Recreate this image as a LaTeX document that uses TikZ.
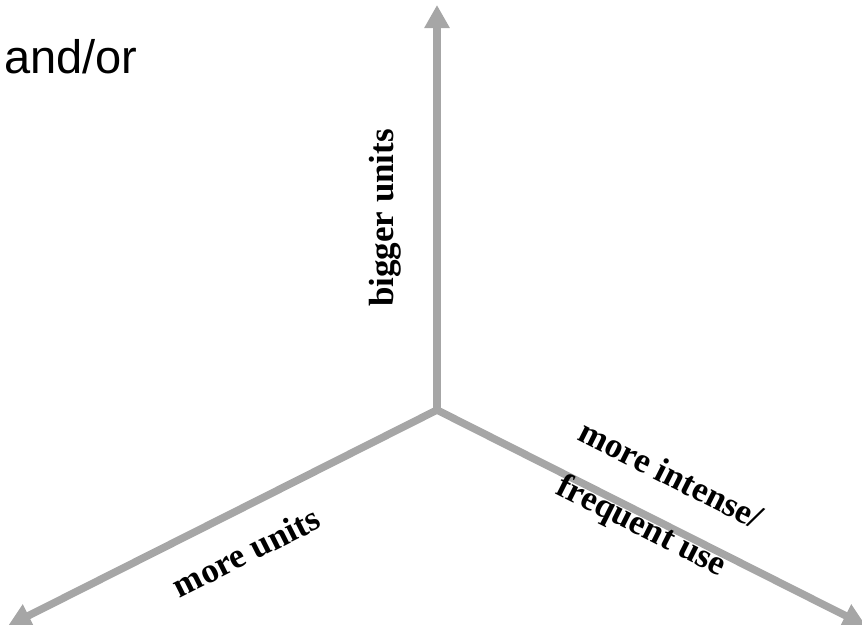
\documentclass[tikz,border=0pt]{standalone}
\usepackage{fontspec}
\setmainfont{Liberation Serif}
\newfontfamily\armfont{Liberation Sans}
\usetikzlibrary{arrows.meta}
\definecolor{axisgray}{HTML}{A6A6A6}
\tikzset{
  axis/.style={draw=axisgray, line width=7.5pt, -{Triangle[width=24pt,length=23pt]}, fill=axisgray},
  lbl/.style={font=\bfseries\fontsize{35}{40}\selectfont, inner sep=0pt, text=black},
}
\begin{document}
\begin{tikzpicture}[x=1pt,y=-1pt]
\useasboundingbox (0,0) rectangle (862,624);
\coordinate (o) at (437,410);
\coordinate (up) at (437,5);
\coordinate (left) at (8,626);
\coordinate (right) at (866,626);
\draw[axis] (o) -- (up);
\draw[axis] (o) -- (left);
\draw[axis] (o) -- (right);
\node[anchor=west, inner sep=0pt, font=\armfont\fontsize{47}{50}\selectfont] (andor) at (4,57) {and/or};
\node[lbl, rotate=90] (bigger) at (385,218) {bigger units};
\node[lbl, rotate=26.7] (moreunits) at (246,552) {more units};
\node[lbl, rotate=-26.7] (intense) at (671,474) {more intense/};
\node[lbl, rotate=-26.7] (frequent) at (641,527) {frequent use};
\end{tikzpicture}
\end{document}
